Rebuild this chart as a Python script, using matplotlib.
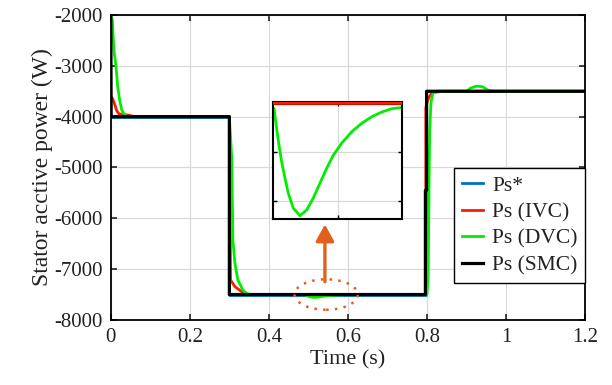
import matplotlib.pyplot as plt
from matplotlib.patches import Ellipse

plt.rcParams['font.family'] = ['Liberation Serif', 'DejaVu Serif']
plt.rcParams['axes.unicode_minus'] = False

# reference power Ps*
t_ref = [0, 0.3, 0.3, 0.797, 0.797, 1.2]
p_ref = [-4000, -4000, -7500, -7500, -3500, -3500]

# indirect vector control
t_ivc = [0, 0.005, 0.01, 0.015, 0.02, 0.03, 0.045, 0.06, 0.3, 0.303, 0.314, 0.331, 0.34,
         0.797, 0.797, 0.8, 0.805, 0.812, 0.825, 1.2]
p_ivc = [-3600, -3650, -3760, -3880, -3940, -3960, -3970, -4000, -4000, -7213, -7344, -7443, -7500,
         -7500, -3830, -3720, -3620, -3540, -3500, -3500]

# direct vector control
t_dvc = [0, 0.004, 0.008, 0.013, 0.018, 0.023, 0.028, 0.035, 0.045, 0.3, 0.306, 0.309, 0.314,
         0.3215, 0.334, 0.344, 0.355, 0.47, 0.49, 0.4912, 0.4934, 0.4956, 0.4981, 0.5012, 0.5042,
         0.5089, 0.5151, 0.5213, 0.5275, 0.5337, 0.54, 0.5461, 0.5539, 0.5632, 0.5725, 0.5818,
         0.5911, 0.6004, 0.6081, 0.65, 0.8, 0.803, 0.806, 0.807, 0.81, 0.815, 0.84, 0.9, 0.91,
         0.925, 0.94, 0.955, 0.97, 1.2]
p_dvc = [-2000, -2100, -2700, -3000, -3440, -3700, -3870, -3970, -4000, -4000, -4800, -6430, -6880,
         -7213, -7410, -7480, -7500, -7501, -7502, -7503.6, -7512.9, -7521.4, -7529.9, -7538.2, -7545.8,
         -7553.4, -7557.3, -7554.4, -7548.3, -7540.7, -7533.1, -7526.5, -7520.4, -7514.6, -7510.3, -7507,
         -7504.6, -7502.9, -7502.4, -7501, -7500, -7120, -4800, -4260, -3730, -3530, -3500, -3500, -3440,
         -3400, -3410, -3480, -3500, -3500]

# sliding mode control
t_smc = [0, 0.001, 0.3, 0.3, 0.796, 0.796, 0.799, 0.799, 1.2]
p_smc = [-2000, -4000, -4000, -7500, -7500, -5450, -5450, -3500, -3500]

c_ref, c_ivc, c_dvc, c_smc = '#0072bd', '#ff1a00', '#00ee00', '#000000'
txt = '#222222'
orange = '#e0601c'

fig = plt.figure(figsize=(6.12, 3.85), dpi=100)
ax = fig.add_axes([0.181, 0.169, 0.775, 0.792])

ax.plot(t_ref, p_ref, color=c_ref, lw=2, label='Ps*')
ax.plot(t_ivc, p_ivc, color=c_ivc, lw=2, label='Ps (IVC)')
ax.plot(t_dvc, p_dvc, color=c_dvc, lw=2, label='Ps (DVC)')
ax.plot(t_smc, p_smc, color=c_smc, lw=2.3, label='Ps (SMC)')

ax.set_xlim(0, 1.2)
ax.set_ylim(-8000, -2000)
ax.set_xticks([0, 0.2, 0.4, 0.6, 0.8, 1, 1.2])
ax.set_xticklabels(['0', '0.2', '0.4', '0.6', '0.8', '1', '1.2'])
ax.set_yticks(range(-8000, -1999, 1000))
ax.grid(True, color='#d8d8d8', lw=0.9)
ax.tick_params(direction='in', top=True, right=True, labelsize=15, colors=txt,
               length=4, width=1.2, pad=6)
for s in ax.spines.values():
    s.set_linewidth(1.3)
ax.set_xlabel('Time (s)', fontsize=16, color=txt, labelpad=2)
ax.set_ylabel('Stator acctive power (W)', fontsize=17, color=txt, labelpad=1)

leg = ax.legend(loc='lower right', bbox_to_anchor=(1.0, 0.121), borderaxespad=0,
                fontsize=15.5, fancybox=False, framealpha=1, edgecolor='black',
                handlelength=1.0, handletextpad=0.4, labelspacing=0.3,
                borderpad=0.35)
leg.get_frame().set_linewidth(1.0)
for t in leg.get_texts():
    t.set_color(txt)

# zoom marker around the DVC dip
ax.add_patch(Ellipse((0.545, -7500), 0.16, 600, fill=False, ec=orange,
                     lw=1.8, ls=(0, (1, 2.5)), zorder=5))
ax.annotate('', xy=(0.5418, -6120), xytext=(0.5418, -7250),
            arrowprops=dict(arrowstyle='-|>,head_length=1.0,head_width=0.55',
                            color=orange, lw=2.4, shrinkA=0, shrinkB=0), zorder=5)

# inset
ins = fig.add_axes([0.446, 0.431, 0.211, 0.304])
ins.plot(t_ref, p_ref, color=c_ref, lw=2)
ins.plot(t_smc, p_smc, color=c_smc, lw=2.3)
ins.plot(t_ivc, p_ivc, color=c_ivc, lw=2.5, zorder=4)
ins.plot(t_dvc, p_dvc, color=c_dvc, lw=2)
ins.set_xlim(0.49, 0.61)
ins.set_ylim(-7559, -7499.5)
ins.set_xticks([0.55])
ins.set_yticks([-7550, -7525])
ins.tick_params(direction='in', top=True, right=True, labelbottom=False, labelleft=False,
                length=3, width=1)
ins.grid(True, color='#d8d8d8', lw=0.9)
for s in ins.spines.values():
    s.set_linewidth(1.5)

fig.savefig('out.png', dpi=100)
